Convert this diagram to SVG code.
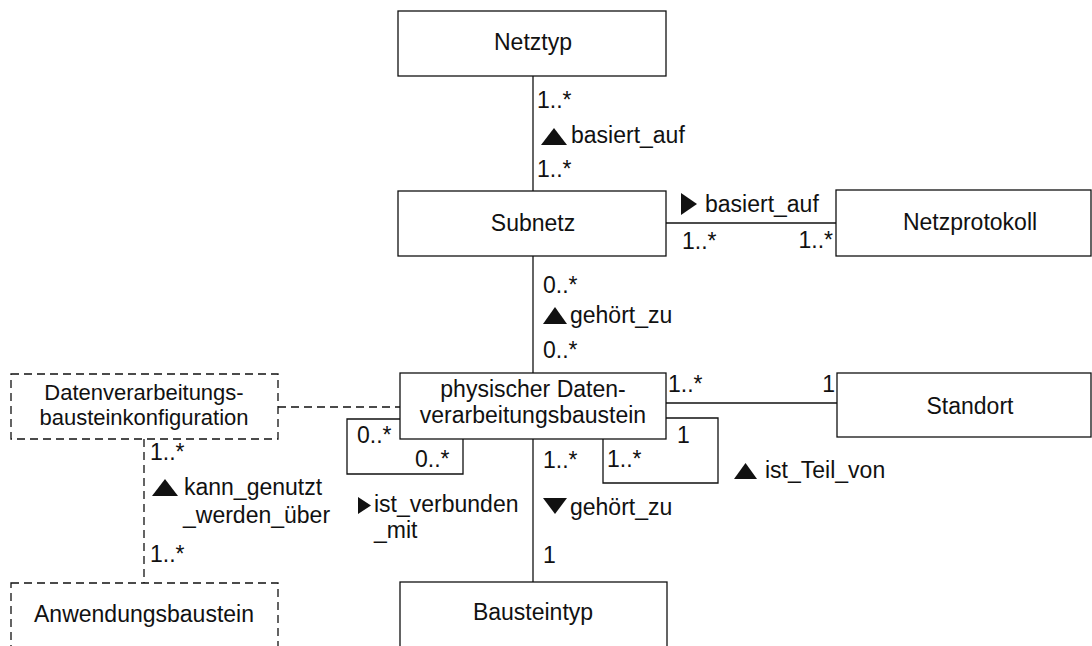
<svg xmlns="http://www.w3.org/2000/svg" width="1092" height="646" viewBox="0 0 1092 646">
  <style>
    text { font-family: "Liberation Sans", Arial, sans-serif; font-size: 23px; fill: #111; }
    .box { fill: #fff; stroke: #111; stroke-width: 1.3; }
    .dbox { fill: #fff; stroke: #111; stroke-width: 1.3; stroke-dasharray: 8 5; }
    .ln { fill: none; stroke: #111; stroke-width: 1.3; }
    .dln { fill: none; stroke: #111; stroke-width: 1.3; stroke-dasharray: 8 5; }
    .c { text-anchor: middle; }
    .e { text-anchor: end; }
    .sm { font-size: 22px; }
    .tri { fill: #111; }
  </style>
  <rect width="1092" height="646" fill="#fff"/>

  <!-- associations -->
  <g id="connectors">
    <line class="ln" x1="533" y1="76" x2="533" y2="191"/>
    <line class="ln" x1="666" y1="223" x2="836" y2="223"/>
    <line class="ln" x1="533" y1="256" x2="533" y2="373"/>
    <line class="ln" x1="666" y1="403" x2="837" y2="403"/>
    <line class="ln" x1="533" y1="439" x2="533" y2="582"/>
    <line class="dln" x1="278" y1="407" x2="400" y2="407"/>
    <line class="dln" x1="144" y1="439" x2="144" y2="583"/>
    <!-- self association ist_verbunden_mit -->
    <polyline class="ln" points="400,419 347,419 347,474 463,474 463,439"/>
    <!-- self association ist_Teil_von -->
    <polyline class="ln" points="666,418 718,418 718,483 603,483 603,439"/>

    <!-- multiplicities and role names -->
    <text x="537" y="108">1..*</text>
    <polygon class="tri" points="541,145 567,145 554,128"/>
    <text x="571" y="143">basiert_auf</text>
    <text x="537" y="177">1..*</text>

    <polygon class="tri" points="681,193 681,215 697,204"/>
    <text x="705" y="212">basiert_auf</text>
    <text x="682" y="249">1..*</text>
    <text class="e" x="833" y="248">1..*</text>

    <text x="543" y="293">0..*</text>
    <polygon class="tri" points="543,324 567,324 555,307"/>
    <text x="570" y="323">gehört_zu</text>
    <text x="543" y="358">0..*</text>

    <text x="668" y="392">1..*</text>
    <text class="e" x="835" y="392">1</text>

    <text x="357" y="443">0..*</text>
    <text x="415" y="467">0..*</text>
    <polygon class="tri" points="358,497 358,514 371,505.5"/>
    <text x="374" y="512">ist_verbunden</text>
    <text x="374" y="538">_mit</text>

    <text x="543" y="468">1..*</text>
    <polygon class="tri" points="543,498 567,498 555,514"/>
    <text x="570" y="515">gehört_zu</text>
    <text x="543" y="563">1</text>

    <text x="677" y="443">1</text>
    <text x="607" y="467">1..*</text>
    <polygon class="tri" points="734,479 757,479 745.5,463"/>
    <text x="765" y="478">ist_Teil_von</text>

    <text x="150" y="460">1..*</text>
    <polygon class="tri" points="152,496 178,496 165,479"/>
    <text x="184" y="495">kann_genutzt</text>
    <text x="183" y="523">_werden_über</text>
    <text x="150" y="562">1..*</text>
  </g>

  <g id="netztyp">
    <rect class="box" x="398" y="11" width="268" height="65"/>
    <text class="c" x="533" y="50">Netztyp</text>
  </g>

  <g id="subnetz">
    <rect class="box" x="398" y="191" width="268" height="65"/>
    <text class="c" x="533" y="231">Subnetz</text>
  </g>

  <g id="netzprotokoll">
    <rect class="box" x="836" y="190" width="255" height="66"/>
    <text class="c" x="970" y="230">Netzprotokoll</text>
  </g>

  <g id="physischer-dv-baustein">
    <rect class="box" x="400" y="373" width="266" height="66"/>
    <text class="c" x="533" y="397">physischer Daten-</text>
    <text class="c" x="533" y="423">verarbeitungsbaustein</text>
  </g>

  <g id="standort">
    <rect class="box" x="837" y="373" width="254" height="64"/>
    <text class="c" x="970" y="414">Standort</text>
  </g>

  <g id="dv-bausteinkonfiguration">
    <rect class="dbox" x="11" y="374" width="267" height="65"/>
    <text class="c sm" x="144" y="400">Datenverarbeitungs-</text>
    <text class="c sm" x="144" y="425">bausteinkonfiguration</text>
  </g>

  <g id="anwendungsbaustein">
    <rect class="dbox" x="11" y="583" width="267" height="80"/>
    <text class="c" x="144" y="622">Anwendungsbaustein</text>
  </g>

  <g id="bausteintyp">
    <rect class="box" x="400" y="582" width="267" height="80"/>
    <text class="c" x="533" y="620">Bausteintyp</text>
  </g>
</svg>
